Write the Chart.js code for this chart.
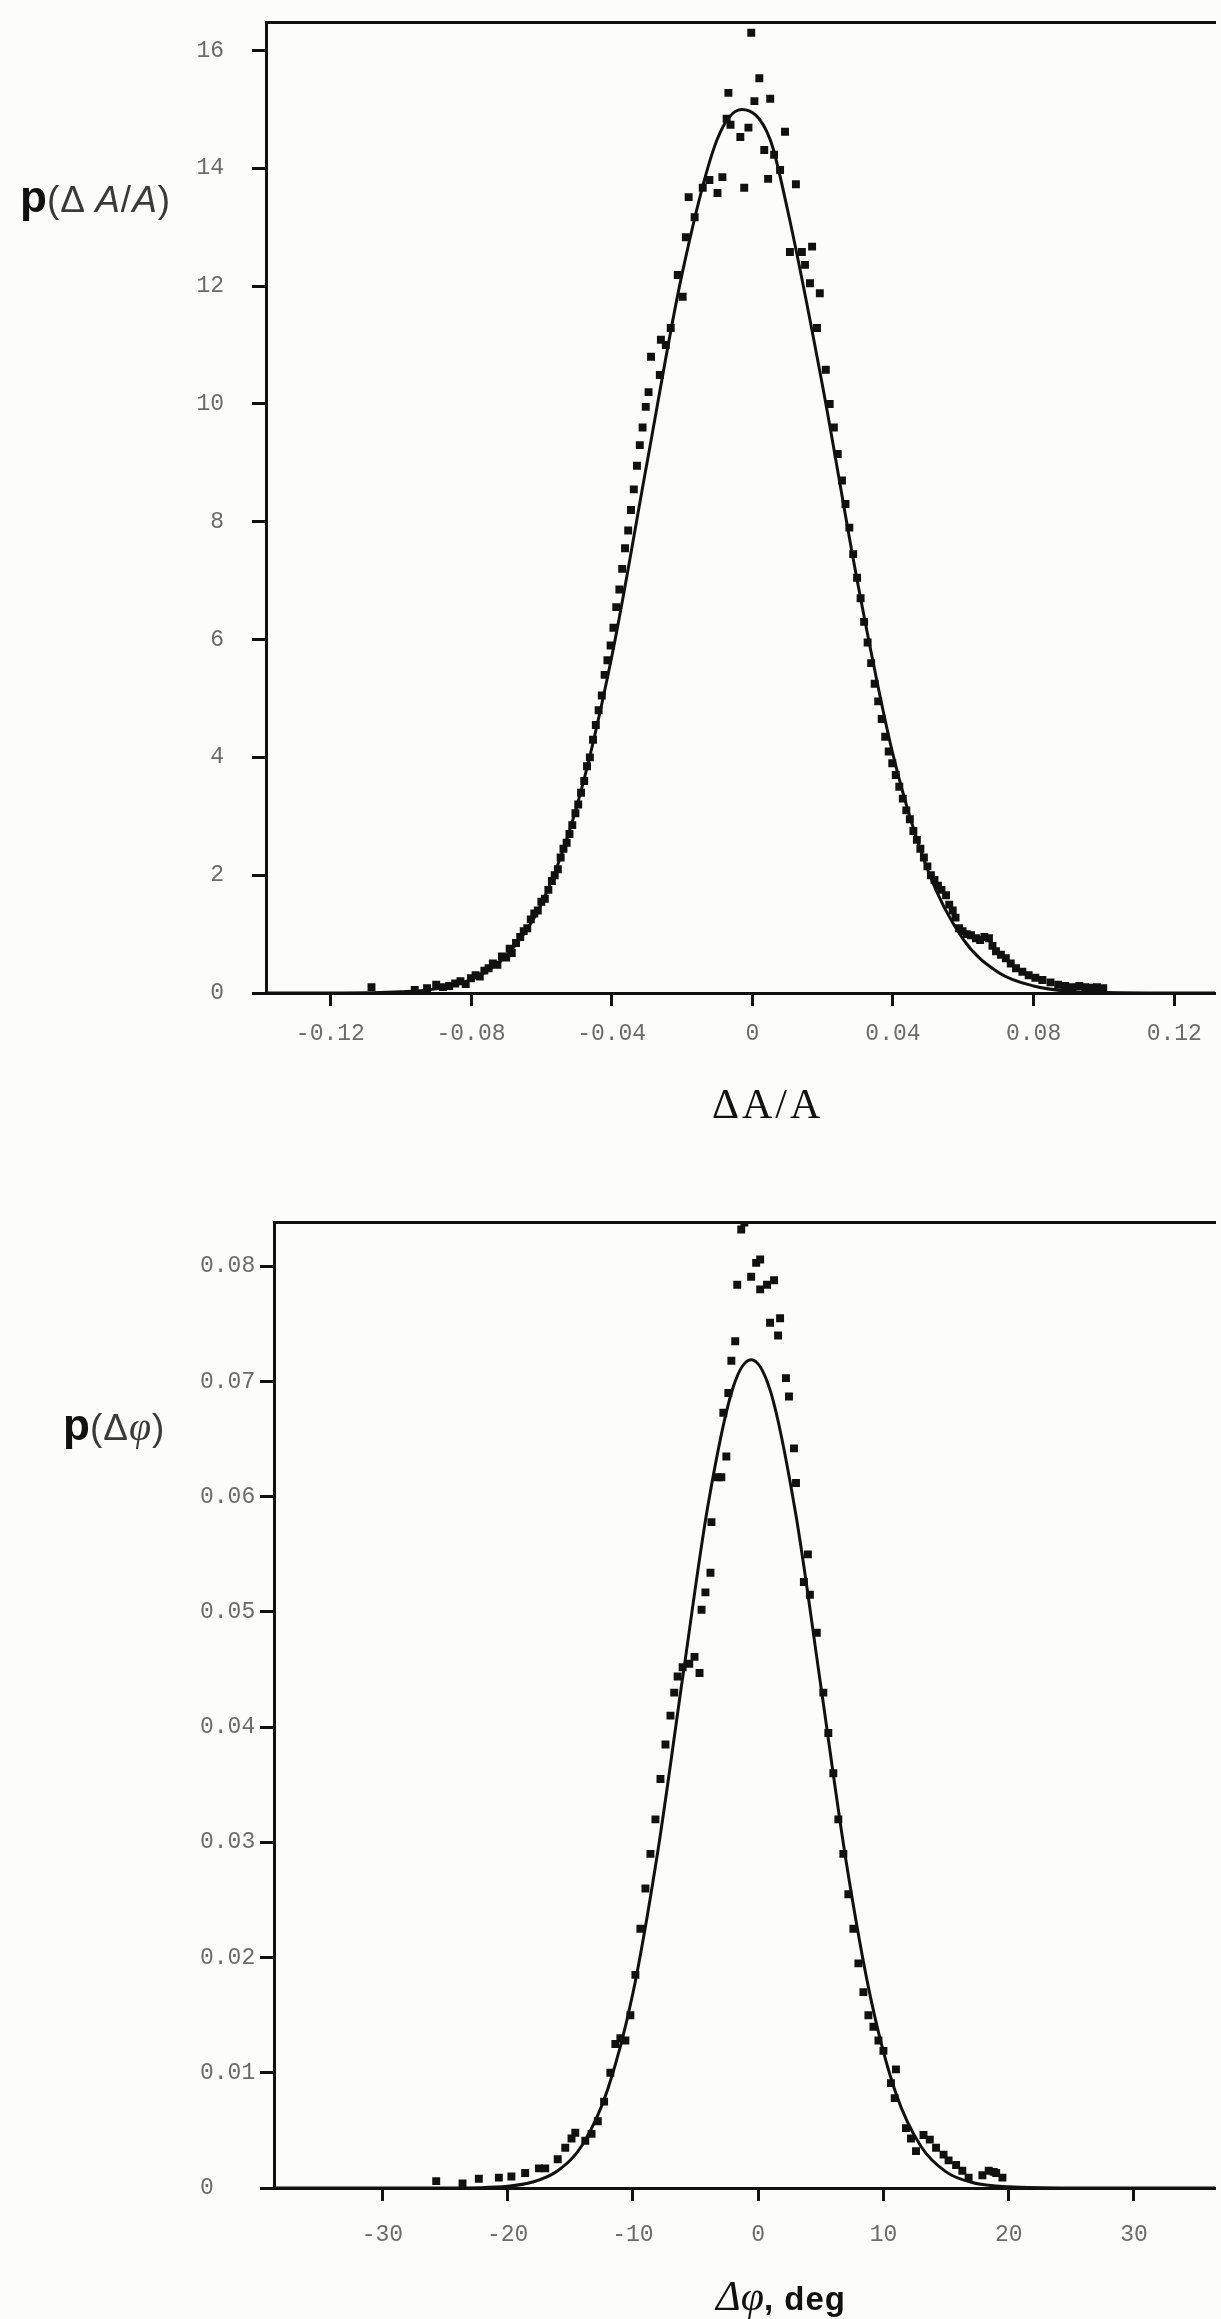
<!DOCTYPE html>
<html>
<head>
<meta charset="utf-8">
<script src="https://cdn.jsdelivr.net/npm/chart.js@4.4.1/dist/chart.umd.min.js"></script>
<style>
  html, body { margin: 0; padding: 0; background: #fcfcfa; }
  body { width: 1221px; height: 2319px; position: relative; overflow: hidden; }
  .box { position: absolute; left: 0; width: 1221px; }
  .lbl { position: absolute; white-space: nowrap; color: #111; }
  .p { font-family: "Liberation Sans", Arial, sans-serif; font-weight: bold; font-size: 44px; }
  .arg { font-family: "Liberation Sans", Arial, sans-serif; font-size: 37px; color: #3a3a3a; letter-spacing: 1px; }
  .serif { font-family: "Liberation Serif", "DejaVu Serif", serif; }
</style>
</head>
<body>
<div class="box" style="top:-19px;height:1109px"><canvas id="chartAmp"></canvas></div>
<div class="box" style="top:1199px;height:1080px"><canvas id="chartPhase"></canvas></div>

<div class="lbl" style="left:20px;top:172px"><span class="p">p</span><span class="arg">(Δ <i>A</i>/<i>A</i>)</span></div>
<div class="lbl serif" style="left:712px;top:1080px;font-size:42px;letter-spacing:3px">ΔA/A</div>
<div class="lbl" style="left:63px;top:1400px"><span class="p">p</span><span class="arg">(Δ<i class="serif" style="font-size:40px">φ</i>)</span></div>
<div class="lbl" style="left:716px;top:2272px"><span class="serif" style="font-size:42px"><i>Δφ</i></span><span class="p" style="font-size:33px;letter-spacing:1px">, deg</span></div>

<script>
// ---- amplitude error distribution (top panel) ----
const ampTicksX = [-0.12, -0.08, -0.04, 0, 0.04, 0.08, 0.12];
const ampTickLabelsX = ['-0.12', '-0.08', '-0.04', '0', '0.04', '0.08', '0.12'];
const ampTicksY = [0, 2, 4, 6, 8, 10, 12, 14, 16];
const ampTickLabelsY = ['0', '2', '4', '6', '8', '10', '12', '14', '16'];

const ampPointsX = [
  -0.1083, -0.0960, -0.0925, -0.0899, -0.0880, -0.0862, -0.0845, -0.0830, -0.0815, -0.0800,
  -0.0787, -0.0775, -0.0762, -0.0750, -0.0738, -0.0725, -0.0712, -0.0700, -0.0690, -0.0684,
  -0.0672, -0.0660, -0.0650, -0.0640, -0.0630, -0.0620, -0.0610, -0.0600, -0.0590, -0.0580,
  -0.0570, -0.0562, -0.0553, -0.0545, -0.0537, -0.0528, -0.0520, -0.0512, -0.0503, -0.0495,
  -0.0487, -0.0478, -0.0470, -0.0462, -0.0453, -0.0445, -0.0437, -0.0428, -0.0420, -0.0412,
  -0.0403, -0.0395, -0.0387, -0.0378, -0.0370, -0.0362, -0.0353, -0.0345, -0.0337, -0.0328,
  -0.0320, -0.0312, -0.0303, -0.0295, -0.0288, -0.0263, -0.0260, -0.0246, -0.0232, -0.0212,
  -0.0198, -0.0189, -0.0181, -0.0164, -0.0141, -0.0122, -0.0099, -0.0085, -0.0073, -0.0068,
  -0.0062, -0.0034, -0.0023, -0.0011, -0.0003, 0.0006, 0.0020, 0.0034, 0.0045, 0.0051,
  0.0062, 0.0079, 0.0093, 0.0107, 0.0124, 0.0141, 0.0150, 0.0164, 0.0170, 0.0184,
  0.0192, 0.0209, 0.0220, 0.0232, 0.0243, 0.0255, 0.0265, 0.0276, 0.0287, 0.0298,
  0.0308, 0.0318, 0.0328, 0.0338, 0.0348, 0.0358, 0.0368, 0.0378, 0.0388, 0.0398,
  0.0408, 0.0418, 0.0428, 0.0438, 0.0448, 0.0458, 0.0468, 0.0478, 0.0488, 0.0498,
  0.0508, 0.0518, 0.0528, 0.0538, 0.0551, 0.0560, 0.0570, 0.0578, 0.0588, 0.0598,
  0.0610, 0.0622, 0.0636, 0.0648, 0.0660, 0.0673, 0.0683, 0.0693, 0.0707, 0.0721,
  0.0735, 0.0750, 0.0768, 0.0786, 0.0805, 0.0825, 0.0848, 0.0870, 0.0890, 0.0910,
  0.0930, 0.0947, 0.0965, 0.0980, 0.0998
];
const ampPointsY = [
  0.10, 0.05, 0.08, 0.14, 0.10, 0.12, 0.16, 0.20, 0.15, 0.25,
  0.30, 0.28, 0.38, 0.42, 0.50, 0.48, 0.62, 0.60, 0.75, 0.68,
  0.85, 0.95, 1.05, 1.10, 1.25, 1.35, 1.40, 1.55, 1.60, 1.75,
  1.90, 2.00, 2.10, 2.30, 2.45, 2.55, 2.70, 2.85, 3.05, 3.20,
  3.40, 3.60, 3.85, 4.00, 4.30, 4.55, 4.80, 5.05, 5.40, 5.65,
  5.90, 6.20, 6.55, 6.85, 7.20, 7.55, 7.85, 8.20, 8.55, 8.95,
  9.30, 9.60, 9.95, 10.20, 10.80, 10.49, 11.09, 11.00, 11.29, 12.19,
  11.82, 12.83, 13.51, 13.17, 13.67, 13.80, 13.58, 13.85, 14.84, 15.28,
  14.74, 14.53, 13.67, 14.69, 16.30, 15.14, 15.53, 14.31, 13.82, 15.18,
  14.23, 13.97, 14.62, 12.58, 13.73, 12.58, 12.36, 12.05, 12.67, 11.29,
  11.88, 10.58, 10.00, 9.60, 9.15, 8.70, 8.30, 7.90, 7.45, 7.05,
  6.70, 6.30, 5.95, 5.60, 5.25, 4.95, 4.65, 4.35, 4.10, 3.90,
  3.70, 3.50, 3.30, 3.10, 2.95, 2.75, 2.60, 2.45, 2.30, 2.15,
  2.00, 1.92, 1.82, 1.75, 1.66, 1.50, 1.40, 1.28, 1.10, 1.05,
  1.00, 0.98, 0.93, 0.90, 0.95, 0.93, 0.80, 0.71, 0.65, 0.59,
  0.50, 0.42, 0.36, 0.30, 0.26, 0.22, 0.18, 0.14, 0.12, 0.10,
  0.12, 0.10, 0.09, 0.10, 0.08
];
const ampCurveX = [-0.138, -0.12, -0.10, -0.09, -0.08, -0.07, -0.06, -0.05, -0.04, -0.03,
  -0.02, -0.01, -0.003, 0.005, 0.01, 0.02, 0.03, 0.04, 0.05, 0.06, 0.07, 0.08, 0.09, 0.10, 0.1317];
const ampCurveY = [0, 0, 0.02, 0.07, 0.23, 0.63, 1.51, 3.15, 5.70, 8.98,
  12.2, 14.49, 15.0, 14.5, 13.3, 10.3, 6.95, 4.05, 2.07, 0.91, 0.35, 0.12, 0.03, 0.01, 0];

// ---- phase error distribution (bottom panel) ----
const phTicksX = [-30, -20, -10, 0, 10, 20, 30];
const phTickLabelsX = ['-30', '-20', '-10', '0', '10', '20', '30'];
const phTicksY = [0, 0.01, 0.02, 0.03, 0.04, 0.05, 0.06, 0.07, 0.08];
const phTickLabelsY = ['0', '0.01', '0.02', '0.03', '0.04', '0.05', '0.06', '0.07', '0.08'];

const phPointsX = [
  -25.7, -23.6, -22.3, -20.7, -19.7, -18.6, -17.5, -17.0, -16.0, -15.4,
  -14.9, -14.6, -13.8, -13.3, -12.8, -12.3, -11.8, -11.4, -11.0, -10.6,
  -10.2, -9.8, -9.4, -9.0, -8.6, -8.2, -7.8, -7.4, -7.0, -6.7,
  -6.43, -6.03, -5.5, -5.08, -4.68, -4.52, -4.21, -3.81, -3.73, -3.25,
  -2.94, -2.78, -2.54, -2.38, -2.14, -1.83, -1.67, -1.35, -1.10, -0.56,
  -0.16, 0.16, 0.16, 0.71, 0.95, 1.27, 1.59, 1.75, 2.22, 2.46,
  2.86, 3.02, 3.65, 3.97, 4.13, 4.68, 5.2, 5.6, 6.0, 6.4,
  6.8, 7.2, 7.6, 8.0, 8.4, 8.8, 9.2, 9.6, 10.0, 10.6,
  11.0, 10.9, 11.8, 12.2, 12.6, 13.2, 13.7, 14.2, 14.8, 15.2,
  15.8, 16.3, 16.8, 17.9, 18.4, 18.8, 19.0, 19.5
];
const phPointsY = [
  0.0006, 0.0004, 0.0008, 0.0009, 0.0010, 0.0013, 0.0017, 0.0017, 0.0025, 0.0035,
  0.0043, 0.0048, 0.0041, 0.0047, 0.0058, 0.0075, 0.0100, 0.0125, 0.0130, 0.0128,
  0.0150, 0.0185, 0.0225, 0.0260, 0.0290, 0.0320, 0.0355, 0.0385, 0.0410, 0.0430,
  0.0444, 0.0452, 0.0455, 0.0461, 0.0447, 0.0502, 0.0517, 0.0534, 0.0578, 0.0617,
  0.0617, 0.0673, 0.0635, 0.0690, 0.0718, 0.0735, 0.0784, 0.0832, 0.0838, 0.0791,
  0.0803, 0.0806, 0.0780, 0.0784, 0.0751, 0.0788, 0.0740, 0.0755, 0.0703, 0.0687,
  0.0642, 0.0612, 0.0526, 0.0550, 0.0515, 0.0482, 0.0430, 0.0395, 0.0360, 0.0320,
  0.0290, 0.0255, 0.0225, 0.0195, 0.0170, 0.0150, 0.0140, 0.0128, 0.0119, 0.0091,
  0.0103, 0.0078, 0.0052, 0.0043, 0.0032, 0.0046, 0.0042, 0.0035, 0.0029, 0.0024,
  0.0020, 0.0015, 0.0009, 0.0011, 0.0015, 0.0014, 0.0013, 0.0009
];
const phCurveX = [-38.65, -25, -20, -18, -16, -14, -12, -10, -8, -6,
  -4, -2, -0.56, 1, 3, 5, 7, 9, 11, 13, 15, 17, 20, 25, 36.5];
const phCurveY = [0, 0, 0.00016, 0.00052, 0.0015, 0.0038, 0.0086, 0.0169, 0.0293, 0.0445,
  0.0593, 0.0695, 0.0719, 0.0691, 0.0585, 0.0436, 0.0285, 0.0164, 0.0082, 0.0036, 0.0014, 0.0005, 0.0001, 0, 0];

const INK = '#111';
const TICK_FONT = { family: '"Liberation Mono", "DejaVu Sans Mono", monospace', size: 23 };
const TICK_COLOR = '#6b6b6b';

function pairs(xs, ys) {
    return xs.map((x, i) => ({ x: x, y: ys[i] }));
}

function makePanel(canvasId, cfg) {
    const ctx = document.getElementById(canvasId);
    return new Chart(ctx, {
        type: 'scatter',
        data: {
            datasets: [
                {
                    data: pairs(cfg.px, cfg.py),
                    pointStyle: 'rect',
                    pointRadius: 5.6,
                    backgroundColor: INK,
                    borderWidth: 0,
                    order: 2,
                },
                {
                    type: 'line',
                    data: pairs(cfg.cx, cfg.cy),
                    borderColor: INK,
                    borderWidth: 3,
                    pointRadius: 0,
                    cubicInterpolationMode: 'monotone',
                    fill: false,
                    order: 1,
                },
            ],
        },
        options: {
            responsive: true,
            maintainAspectRatio: false,
            animation: false,
            layout: { padding: { top: cfg.top, right: 0, left: cfg.left, bottom: 0 } },
            plugins: { legend: { display: false }, tooltip: { enabled: false } },
            scales: {
                x: {
                    type: 'linear',
                    min: cfg.xmin,
                    max: cfg.xmax,
                    afterBuildTicks: s => { s.ticks = cfg.xt.map(v => ({ value: v })); },
                    afterFit: s => { s.height = cfg.xh; },
                    border: { display: true, color: INK, width: 3 },
                    grid: { drawOnChartArea: false, drawTicks: true, tickLength: 13, tickWidth: 3, color: INK },
                    ticks: {
                        padding: cfg.xpad,
                        font: TICK_FONT,
                        color: TICK_COLOR,
                        maxRotation: 0,
                        callback: (v, i) => cfg.xl[i],
                    },
                },
                x2: {
                    type: 'linear',
                    position: 'top',
                    min: cfg.xmin,
                    max: cfg.xmax,
                    afterFit: s => { s.height = 0; },
                    border: { display: true, color: INK, width: 3 },
                    grid: { display: false },
                    ticks: { display: false },
                },
                y: {
                    type: 'linear',
                    min: 0,
                    max: cfg.ymax,
                    afterBuildTicks: s => { s.ticks = cfg.yt.map(v => ({ value: v })); },
                    afterFit: s => { s.width = cfg.yw; },
                    border: { display: true, color: INK, width: 3 },
                    grid: { drawOnChartArea: false, drawTicks: true, tickLength: 14, tickWidth: 3, color: INK },
                    ticks: {
                        padding: cfg.ypad,
                        crossAlign: cfg.yalign,
                        font: TICK_FONT,
                        color: TICK_COLOR,
                        callback: (v, i) => cfg.yl[i],
                    },
                },
            },
        },
    });
}

makePanel('chartAmp', {
    px: ampPointsX, py: ampPointsY, cx: ampCurveX, cy: ampCurveY,
    xt: ampTicksX, xl: ampTickLabelsX, yt: ampTicksY, yl: ampTickLabelsY,
    xmin: -0.1383, xmax: 0.1317, ymax: 16.47,
    top: 0, left: 0, xh: 97, yw: 266, xpad: 14, ypad: 28, yalign: 'near',
});

makePanel('chartPhase', {
    px: phPointsX, py: phPointsY, cx: phCurveX, cy: phCurveY,
    xt: phTicksX, xl: phTickLabelsX, yt: phTicksY, yl: phTickLabelsY,
    xmin: -38.65, xmax: 36.5, ymax: 0.08385,
    top: 23, left: 200, xh: 91, yw: 74, xpad: 20, ypad: 6, yalign: 'far',
});
</script>
</body>
</html>
